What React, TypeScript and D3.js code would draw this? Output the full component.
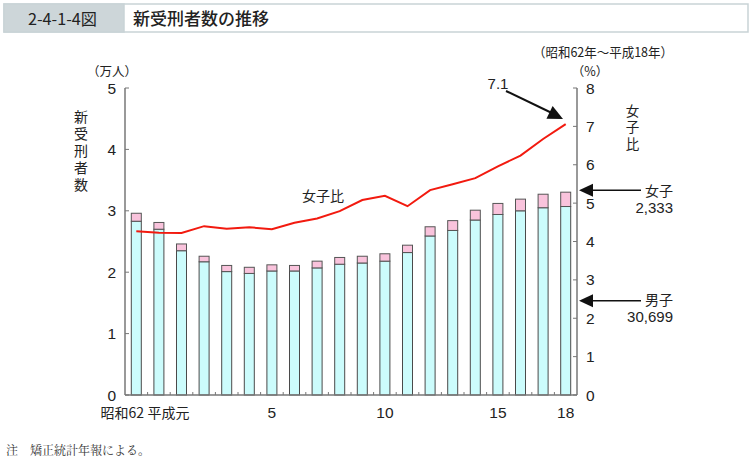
import React from "react";
import * as d3 from "d3";

const categories = ["昭和62", "63", "平成元", "2", "3", "4", "5", "6", "7", "8", "9", "10", "11", "12", "13", "14", "15", "16", "17", "18"];
const maleValues = [2.83, 2.70, 2.35, 2.17, 2.01, 1.98, 2.02, 2.02, 2.07, 2.13, 2.15, 2.18, 2.32, 2.59, 2.68, 2.85, 2.94, 3.00, 3.05, 3.0699];
const femaleValues = [0.13, 0.11, 0.11, 0.09, 0.10, 0.10, 0.10, 0.09, 0.11, 0.11, 0.11, 0.12, 0.12, 0.15, 0.16, 0.16, 0.18, 0.19, 0.22, 0.2333];
const femaleRatio = [4.27, 4.23, 4.22, 4.40, 4.33, 4.37, 4.32, 4.49, 4.60, 4.79, 5.08, 5.19, 4.92, 5.34, 5.49, 5.65, 5.96, 6.24, 6.67, 7.06];
const leftTicks = [0, 1, 2, 3, 4, 5];
const rightTicks = [0, 1, 2, 3, 4, 5, 6, 7, 8];
const xTickLabels = [
  { i: 6, label: "5" },
  { i: 11, label: "10" },
  { i: 16, label: "15" },
  { i: 19, label: "18" },
];

const SANS = "'Liberation Sans', 'Noto Sans CJK JP', sans-serif";
const CJK = "'Noto Sans CJK JP', sans-serif";

export default function App() {
  const left = 125, right = 577, top = 88, bottom = 395;
  const x = d3.scaleBand<number>().domain(d3.range(categories.length)).range([left, right]);
  const yL = d3.scaleLinear().domain([0, 5]).range([bottom, top]);
  const yR = d3.scaleLinear().domain([0, 8]).range([bottom, top]);
  const bw = 10;
  const cx = (i: number) => (x(i) as number) + x.bandwidth() / 2;
  const line = d3.line<number>().x((_, i) => cx(i)).y((d) => yR(d));
  const axisColor = "#777";
  const textColor = "#222";
  const last = categories.length - 1;

  const arrowHead = (x1: number, y1: number, x2: number, y2: number, len = 14, half = 6) => {
    const a = Math.atan2(y2 - y1, x2 - x1);
    const bx = x2 - len * Math.cos(a), by = y2 - len * Math.sin(a);
    const px = -Math.sin(a) * half, py = Math.cos(a) * half;
    return `M${x2},${y2}L${bx + px},${by + py}L${bx - px},${by - py}Z`;
  };

  const lastTotal = maleValues[last] + femaleValues[last];
  const femArrowY = yL(lastTotal) - 2;
  const maleArrowY = yL(maleValues[last] / 2);

  return (
    <svg width={752} height={464} style={{ position: "absolute", left: 0, top: 0, background: "#fff" }}>
      {/* title */}
      <rect x={4} y={4} width={744} height={28} fill="#fff" stroke="#c9d3d6" strokeWidth={1.5} />
      <rect x={4} y={4} width={120} height={28} fill="#cdd6d9" stroke="#c9d3d6" strokeWidth={1.5} />
      <text x={62.5} y={24.5} textAnchor="middle" fontFamily={CJK} fontSize={16} fill={textColor} textLength={69} lengthAdjust="spacingAndGlyphs">2-4-1-4図</text>
      <text x={133} y={24.5} fontFamily={CJK} fontSize={17} fill={textColor} fontWeight={500}>新受刑者数の推移</text>

      {/* period */}
      <text x={603} y={57} textAnchor="middle" fontFamily={CJK} fontSize={13} fill={textColor} textLength={140} lengthAdjust="spacingAndGlyphs">（昭和62年～平成18年）</text>
      <text x={112} y={76} textAnchor="middle" fontFamily={CJK} fontSize={12.5} fill={textColor}>（万人）</text>
      <text x={590} y={76} textAnchor="middle" fontFamily={CJK} fontSize={12.5} fill={textColor}>（%）</text>

      {/* vertical labels */}
      <text x={81} y={110} fontFamily={CJK} fontSize={14} fill={textColor} style={{ writingMode: "vertical-rl", letterSpacing: "2.8px" }}>新受刑者数</text>
      <text x={632.5} y={104} fontFamily={CJK} fontSize={13.5} fill={textColor} style={{ writingMode: "vertical-rl", letterSpacing: "3px" }}>女子比</text>

      {/* bars */}
      {categories.map((_, i) => {
        const xb = cx(i) - bw / 2;
        const m = maleValues[i], f = femaleValues[i];
        return (
          <g key={i}>
            <rect x={xb} y={yL(m)} width={bw} height={yL(0) - yL(m)} fill="#ccfcfc" stroke="#4a4a4a" strokeWidth={1} />
            <rect x={xb} y={yL(m + f)} width={bw} height={yL(m) - yL(m + f)} fill="#f9c3dc" stroke="#555" strokeWidth={1} />
          </g>
        );
      })}

      {/* axes */}
      <line x1={left} y1={top} x2={left} y2={bottom} stroke={axisColor} strokeWidth={1.5} />
      <line x1={right} y1={top} x2={right} y2={bottom} stroke={axisColor} strokeWidth={1.5} />
      <line x1={left} y1={bottom} x2={right} y2={bottom} stroke={axisColor} strokeWidth={1.5} />
      {leftTicks.map((t) => (
        <g key={t}>
          <line x1={left} x2={left + 4} y1={yL(t)} y2={yL(t)} stroke={axisColor} strokeWidth={1} />
          <text x={116} y={yL(t) + 5.5} textAnchor="end" fontFamily={SANS} fontSize={15.5} fill={textColor}>{t}</text>
        </g>
      ))}
      {rightTicks.map((t) => (
        <g key={t}>
          <line x1={right - 4} x2={right} y1={yR(t)} y2={yR(t)} stroke={axisColor} strokeWidth={1} />
          <text x={586} y={yR(t) + 5.5} fontFamily={SANS} fontSize={15.5} fill={textColor}>{t}</text>
        </g>
      ))}
      {d3.range(1, categories.length).map((i) => (
        <line key={i} x1={x(i) as number} x2={x(i) as number} y1={bottom} y2={bottom - 3} stroke={axisColor} strokeWidth={1} />
      ))}

      {/* x labels */}
      <text x={cx(0) - 14} y={418} textAnchor="middle" fontFamily={CJK} fontSize={14} fill={textColor}>{categories[0]}</text>
      <text x={cx(2) - 13} y={418} textAnchor="middle" fontFamily={CJK} fontSize={14} fill={textColor}>{categories[2]}</text>
      {xTickLabels.map((d) => (
        <text key={d.i} x={cx(d.i)} y={418} textAnchor="middle" fontFamily={SANS} fontSize={15.5} fill={textColor}>{d.label}</text>
      ))}

      {/* ratio line */}
      <path d={line(femaleRatio) || ""} fill="none" stroke="#f21a0f" strokeWidth={2} />
      <text x={323} y={201} textAnchor="middle" fontFamily={CJK} fontSize={14} fill={textColor}>女子比</text>

      {/* 7.1 annotation */}
      <text x={498} y={89} textAnchor="middle" fontFamily={SANS} fontSize={15} fill={textColor}>{femaleRatio[last].toFixed(1)}</text>
      <line x1={506} y1={91} x2={556} y2={115} stroke="#111" strokeWidth={2} />
      <path d={arrowHead(506, 91, 563, 119, 15, 7)} fill="#111" />

      {/* female / male arrows */}
      <line x1={641} y1={femArrowY} x2={590} y2={femArrowY} stroke="#111" strokeWidth={1.5} />
      <path d={arrowHead(641, femArrowY, 579, femArrowY, 14, 6.5)} fill="#111" />
      <text x={673} y={196} textAnchor="end" fontFamily={CJK} fontSize={14} fill={textColor}>女子</text>
      <text x={673} y={213} textAnchor="end" fontFamily={SANS} fontSize={15} fill={textColor}>{"2,333"}</text>

      <line x1={641} y1={maleArrowY} x2={590} y2={maleArrowY} stroke="#111" strokeWidth={1.5} />
      <path d={arrowHead(641, maleArrowY, 579, maleArrowY, 14, 6.5)} fill="#111" />
      <text x={673} y={305} textAnchor="end" fontFamily={CJK} fontSize={14} fill={textColor}>男子</text>
      <text x={673} y={322} textAnchor="end" fontFamily={SANS} fontSize={15} fill={textColor}>{"30,699"}</text>

      {/* note */}
      <text x={6} y={455} fontFamily="'Noto Serif CJK JP', 'DejaVu Serif', serif" fontSize={12} fill="#333">注　矯正統計年報による。</text>
    </svg>
  );
}
